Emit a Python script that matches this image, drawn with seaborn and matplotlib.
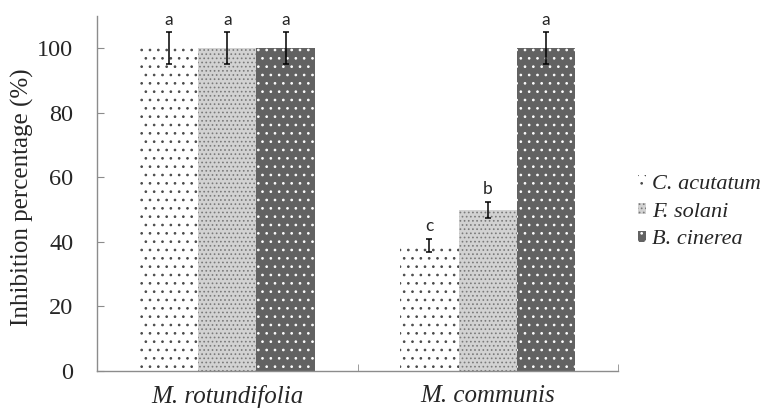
import pandas as pd
import matplotlib.pyplot as plt
import seaborn as sns
from matplotlib.patches import Patch

# data
plantas = ['M. rotundifolia', 'M. communis']
fungos = ['C. acutatum', 'F. solani', 'B. cinerea']
inibicao = {
    'C. acutatum': [100, 39],
    'F. solani': [100, 50],
    'B. cinerea': [100, 100],
}
erros = {
    'C. acutatum': [5, 2],
    'F. solani': [5, 2.5],
    'B. cinerea': [5, 5],
}
letras = {
    'C. acutatum': ['a', 'c'],
    'F. solani': ['a', 'b'],
    'B. cinerea': ['a', 'a'],
}

rows = []
for f in fungos:
    for i, p in enumerate(plantas):
        rows.append({'planta': p, 'fungo': f, 'valor': inibicao[f][i]})
df = pd.DataFrame(rows)

sns.set_style('white')
plt.rcParams['font.family'] = ['Liberation Serif', 'DejaVu Serif']
plt.rcParams['hatch.linewidth'] = 0.7

estilos = {
    'C. acutatum': dict(face='white', edge='#4a4a4a', hatch='..'),
    'F. solani': dict(face='#d2d2d2', edge='#7a7a7a', hatch='....'),
    'B. cinerea': dict(face='#626262', edge='white', hatch='..'),
}
cinza = '#8c8c8c'

fig = plt.figure(figsize=(7.73, 4.11), dpi=100)
ax = fig.add_axes([0.1255, 0.0973, 0.674, 0.8637])

sns.barplot(data=df, x='planta', y='valor', hue='fungo', order=plantas,
            hue_order=fungos, width=0.672, gap=0, errorbar=None,
            legend=False, ax=ax)

# patches come out hue by hue, plant by plant
for k, f in enumerate(fungos):
    for i in range(len(plantas)):
        bar = ax.patches[k * len(plantas) + i]
        st = estilos[f]
        bar.set_facecolor(st['face'])
        bar.set_edgecolor(st['edge'])
        bar.set_hatch(st['hatch'])
        bar.set_linewidth(0)
        xc = bar.get_x() + bar.get_width() / 2
        h = bar.get_height()
        e = erros[f][i]
        ax.errorbar(xc, h, yerr=e, fmt='none', ecolor='black',
                    elinewidth=1.1, capsize=2.4, capthick=1.1)
        ax.text(xc, h + e + 2.3, letras[f][i], ha='center', va='baseline',
                fontsize=12.5, family=['Lato', 'DejaVu Sans'])

ax.set_xlim(-0.5, 1.5)
ax.set_ylim(0, 110)
ax.set_yticks(range(0, 101, 20))
ax.set_xlabel('')
ax.set_ylabel('')
fig.text(22 / 773, 1 - 197 / 411, 'Inhibition percentage (%)',
         rotation=90, ha='center', va='center', fontsize=18)
ax.set_xticks([0, 1])
ax.set_xticklabels(plantas, fontsize=18, style='italic')
ax.set_xticks([-0.5, 0.5, 1.5], minor=True)
ax.tick_params(axis='y', direction='in', length=5, color=cinza,
               labelsize=17.5, left=True, pad=17)
ax.tick_params(axis='x', which='major', length=0, pad=10)
ax.tick_params(axis='x', which='minor', direction='in', length=5,
               color=cinza, bottom=True)

for s in ['top', 'right']:
    ax.spines[s].set_visible(False)
for s in ['left', 'bottom']:
    ax.spines[s].set_color(cinza)
    ax.spines[s].set_linewidth(1)

handles = [Patch(facecolor=estilos[f]['face'], edgecolor=estilos[f]['edge'],
                 hatch=estilos[f]['hatch'], linewidth=0) for f in fungos]
fig.legend(handles, fungos, loc='center left',
           bbox_to_anchor=(0.825, 1 - 212 / 411), frameon=False,
           prop={'style': 'italic', 'size': 16},
           handlelength=0.35, handleheight=0.35, handletextpad=0.3,
           labelspacing=0.4, borderpad=0, borderaxespad=0)

fig.savefig('out.png', dpi=100)
